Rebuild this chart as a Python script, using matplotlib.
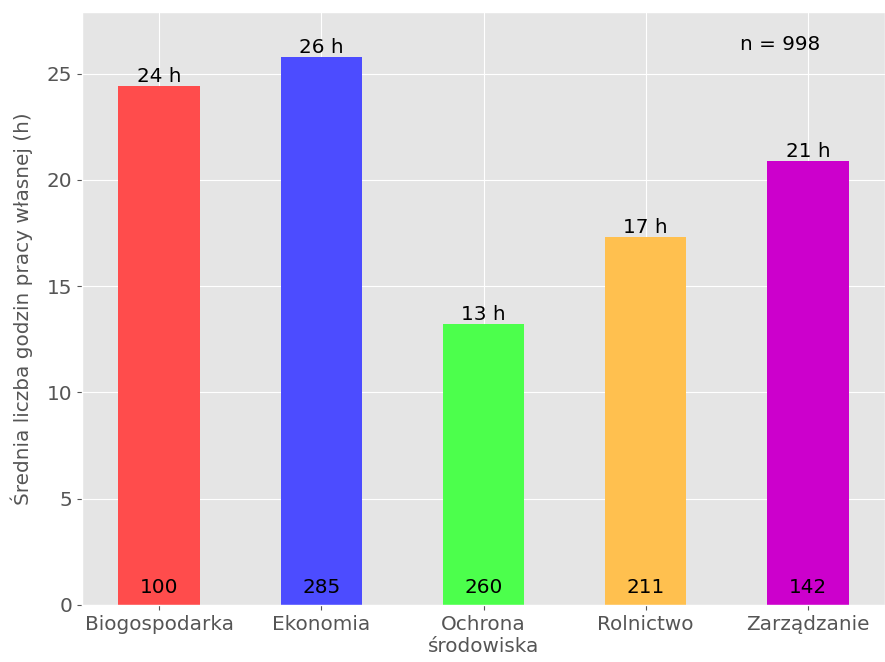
import matplotlib
matplotlib.use("Agg")
import matplotlib.pyplot as plt

# === Data
kierunki = ["Biogospodarka", "Ekonomia", "Ochrona\nśrodowiska", "Rolnictwo", "Zarządzanie"]
srednia_h = [24.4, 25.8, 13.2, 17.3, 20.9]
liczebnosc = [100, 285, 260, 211, 142]
kolory = ["#ff4c4c", "#4c4cff", "#4cff4c", "#ffc04f", "#cc00cc"]
n_total = 998

plt.style.use("ggplot")
fs = 14.4
fig, ax = plt.subplots(figsize=(8.85, 6.62), dpi=100)
fig.subplots_adjust(left=82 / 885, right=1.0, top=1 - 12 / 662, bottom=1 - 605 / 662)

x = range(len(kierunki))
bars = ax.bar(x, srednia_h, width=0.5, color=kolory)

# === Labels above and inside the bars
for i, (b, h, n) in enumerate(zip(bars, srednia_h, liczebnosc)):
    ax.text(i, h, f"{round(h):.0f} h", ha="center", va="bottom", fontsize=fs)
    ax.text(i, 0.8, str(n), ha="center", va="center", fontsize=fs)

ax.text(0.87, 0.945, f"n = {n_total}", transform=ax.transAxes,
        ha="center", va="center", fontsize=fs)

ax.set_xticks(list(x))
ax.set_xticklabels(kierunki, fontsize=fs)
ax.tick_params(axis="y", labelsize=fs)
ax.set_ylabel("Średnia liczba godzin pracy własnej (h)", fontsize=fs, labelpad=10)
ax.set_ylim(0, 27.9)

plt.savefig("out.png", dpi=100)
